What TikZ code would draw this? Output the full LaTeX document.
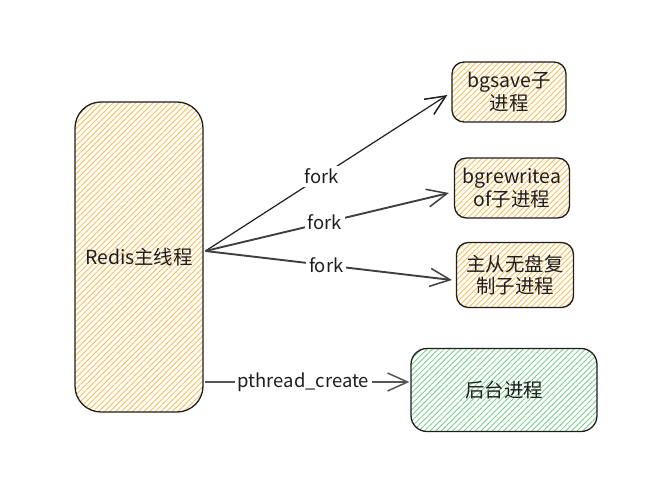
\documentclass[tikz,border=0pt]{standalone}
\usepackage{fontspec}
\setmainfont{Noto Sans CJK SC}
\usetikzlibrary{arrows.meta,patterns.meta,calc}
\definecolor{hatchY}{HTML}{F7BE50}
\definecolor{hatchG}{HTML}{78CF88}
\definecolor{ink}{HTML}{1E1E1E}
\definecolor{grayink}{HTML}{555555}
\tikzset{
  procbox/.style={draw=ink, line width=1.3pt, align=center, inner sep=0pt,
    font=\fontsize{19.5}{23}\selectfont, text=ink},
  yel/.style={procbox, pattern={Lines[angle=45,distance=4bp,line width=0.85bp]}, pattern color=hatchY},
  grn/.style={procbox, pattern={Lines[angle=45,distance=4bp,line width=0.85bp]}, pattern color=hatchG},
  conn/.style={-{Straight Barb[length=20bp,width=18bp,line width=1.5pt]}, line width=1.2pt, draw=ink},
  connb/.style={conn, draw=grayink!60!ink, line width=1.9pt},
  connc/.style={conn, draw=grayink, line width=3pt},
  lbl/.style={fill=white, inner sep=3bp, text=ink, font=\fontsize{18.5}{20}\selectfont}
}
\begin{document}
\begin{tikzpicture}[x=1bp,y=-1bp]
\useasboundingbox[fill=white] (0,0) rectangle (666,482);
\node[yel, minimum width=128bp, minimum height=310bp, rounded corners=26bp] (main) at (139,257) {Redis主线程};
\node[yel, minimum width=114bp, minimum height=60bp, rounded corners=12bp] (b1) at (509,92) {bgsave子\\进程};
\node[yel, minimum width=115bp, minimum height=60bp, rounded corners=12bp] (b2) at (512,188) {bgrewritea\\of子进程};
\node[yel, minimum width=117bp, minimum height=65bp, rounded corners=12bp] (b3) at (515,275) {主从无盘复\\制子进程};
\node[grn, minimum width=186bp, minimum height=83bp, rounded corners=16bp] (bg) at (504,390) {后台进程};
\coordinate (src) at ($(main.east)+(2,-6)$);
\draw[conn] (src) -- node[lbl, pos=0.48] (l1) {fork} ($(b1.west)+(-4,3)$);
\draw[connb] (src) -- node[lbl, pos=0.49] (l2) {fork} ($(b2.west)+(-5,5)$);
\draw[connb] (src) -- node[lbl, pos=0.49] (l3) {fork} ($(b3.west)+(-4,5)$);
\draw[connc] ($(main.east)+(2,125)$) -- node[lbl, pos=0.48] (l4) {pthread\_create} ($(bg.west)+(-1,-8)$);
\end{tikzpicture}
\end{document}
